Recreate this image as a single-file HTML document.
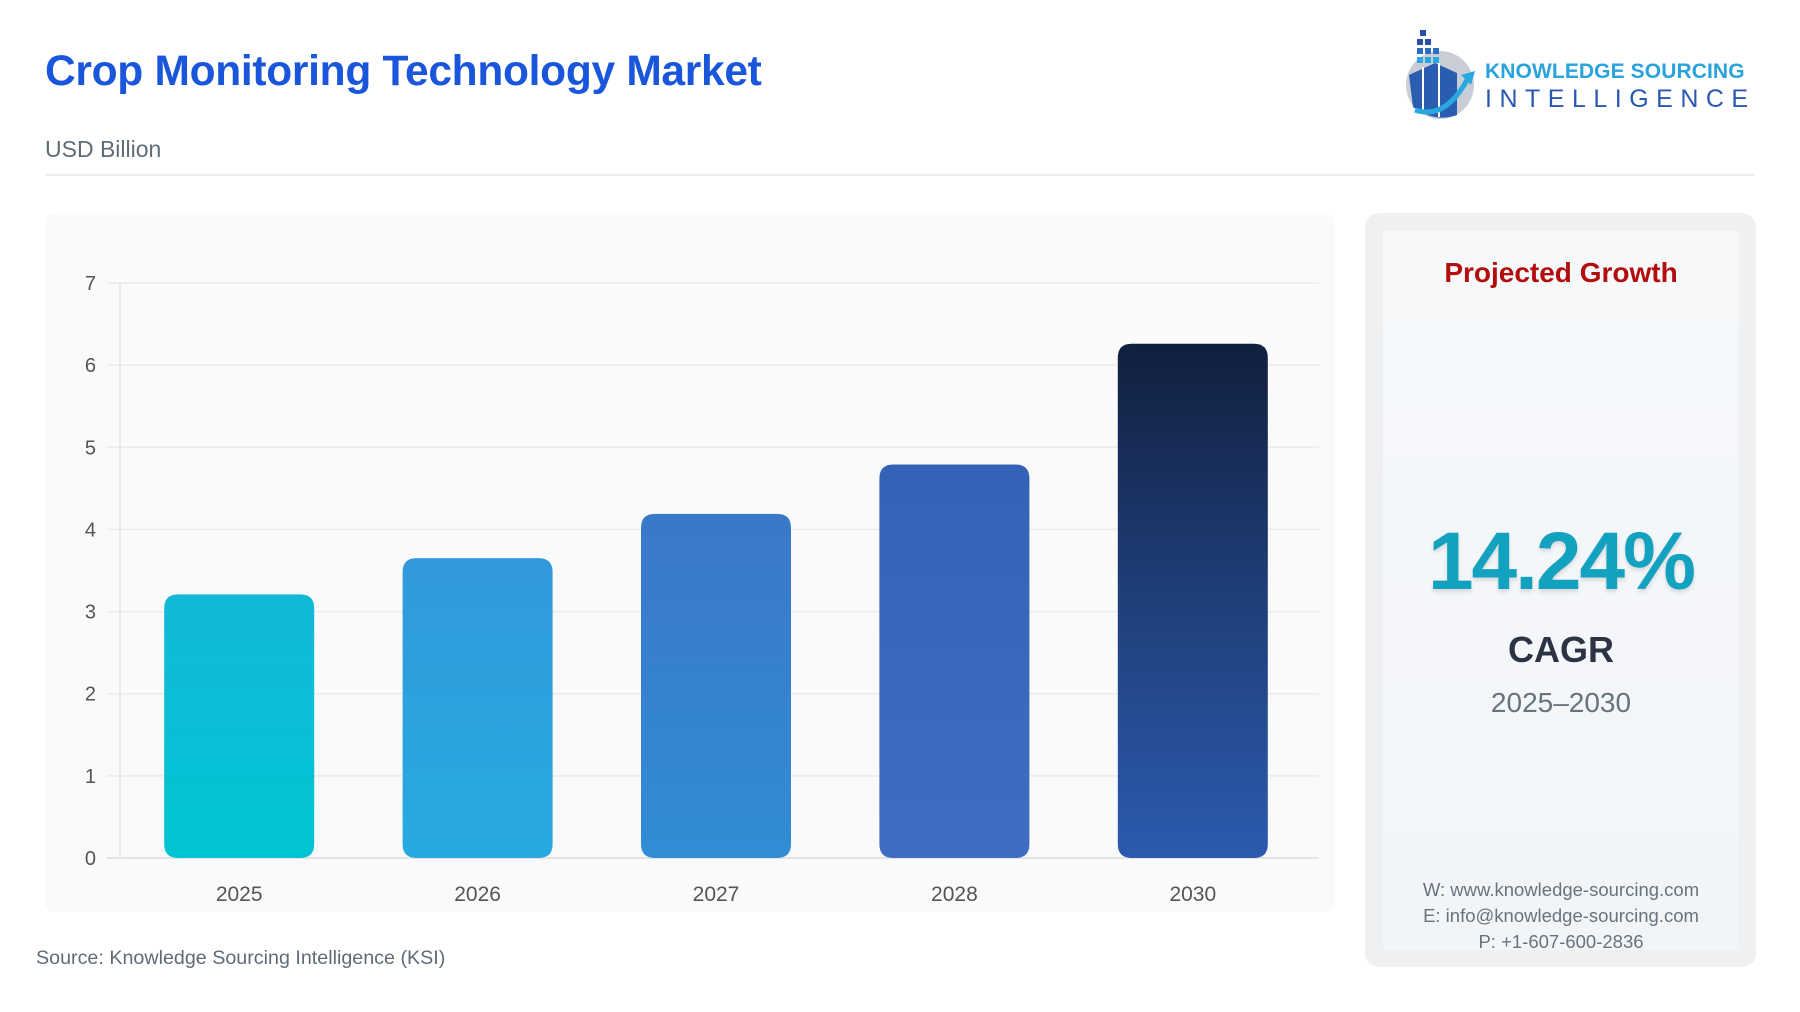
<!DOCTYPE html>
<html><head><meta charset="utf-8"><style>
body{margin:0;width:1800px;height:1012px;background:#fff;position:relative;overflow:hidden;font-family:"Liberation Sans",sans-serif}
.a{position:absolute}
</style></head><body>
<div class="a" style="left:45px;top:48px;font-size:42.5px;font-weight:bold;color:#1a56db;letter-spacing:-0.3px">Crop Monitoring Technology Market</div>
<div class="a" style="left:45px;top:136px;font-size:23px;color:#5f6b76">USD Billion</div>
<div class="a" style="left:45px;top:174px;width:1710px;height:2px;background:#eceef0"></div>
<div class="a" style="left:1395px;top:25px;width:400px;height:95px">
<svg width="90" height="95" viewBox="0 0 90 95"><circle cx="45" cy="60" r="34" fill="#c9ced6"/><path d="M14 50 L40 38 L62 48 L62 90 Q40 98 18 82 Z" fill="#2a5db0"/><path d="M28 42 L28 88 M44 38 L44 92" stroke="#fff" stroke-width="2"/><path d="M20 85 Q50 95 72 55" stroke="#29a8e0" stroke-width="5" fill="none"/><polygon points="66,50 80,46 76,60" fill="#29a8e0"/><rect x="25" y="5" width="6" height="6" fill="#2a4fa0"/><rect x="22" y="14" width="6" height="6" fill="#2a4fa0"/><rect x="30" y="14" width="6" height="6" fill="#2a4fa0"/><rect x="22" y="23" width="6" height="6" fill="#2e6cc0"/><rect x="30" y="23" width="6" height="6" fill="#2e6cc0"/><rect x="38" y="23" width="6" height="6" fill="#2e6cc0"/><rect x="22" y="32" width="6" height="6" fill="#29a8e0"/><rect x="30" y="32" width="6" height="6" fill="#29a8e0"/><rect x="38" y="32" width="6" height="6" fill="#29a8e0"/></svg>
<div class="a" style="left:90px;top:35px;font-size:21px;font-weight:bold;color:#29a3dc;letter-spacing:0.1px;white-space:nowrap">KNOWLEDGE SOURCING</div>
<div class="a" style="left:90px;top:60px;font-size:25px;color:#2b58b0;letter-spacing:7.5px;white-space:nowrap">INTELLIGENCE</div>
</div>
<div class="a" style="left:45px;top:213px;width:1290px;height:699px;background:#fafafa;border-radius:10px"></div>
<svg class="a" style="left:0;top:0" width="1800" height="1012">
<defs>
<linearGradient id="g0" x1="0" y1="0" x2="0" y2="1"><stop offset="0" stop-color="#12b9d6"/><stop offset="1" stop-color="#00c4d4"/></linearGradient>
<linearGradient id="g1" x1="0" y1="0" x2="0" y2="1"><stop offset="0" stop-color="#3199da"/><stop offset="1" stop-color="#27aae0"/></linearGradient>
<linearGradient id="g2" x1="0" y1="0" x2="0" y2="1"><stop offset="0" stop-color="#3a78c8"/><stop offset="1" stop-color="#328cd6"/></linearGradient>
<linearGradient id="g3" x1="0" y1="0" x2="0" y2="1"><stop offset="0" stop-color="#3462b6"/><stop offset="1" stop-color="#3e6dc2"/></linearGradient>
<linearGradient id="g4" x1="0" y1="0" x2="0" y2="1"><stop offset="0" stop-color="#121f3e"/><stop offset="0.5" stop-color="#1f3f7a"/><stop offset="1" stop-color="#2c5aae"/></linearGradient>
</defs>
<g id="grid"></g><g id="bars"></g><g id="labels"></g>
</svg>
<div class="a" style="left:1365px;top:213px;width:391px;height:754px;background:#eef0f2;border-radius:14px"></div>
<div class="a" style="left:1383px;top:231px;width:356px;height:719px;background:linear-gradient(#f6f8fa,#f2f5f8)"></div>
<div class="a" style="left:1383px;width:356px;text-align:center;top:257px;font-size:28px;font-weight:bold;color:#b30d0d">Projected Growth</div>
<div class="a" style="left:1383px;width:356px;text-align:center;top:515px;font-size:82px;font-weight:bold;color:#12a2c0;letter-spacing:-2px;text-shadow:0 3px 4px rgba(0,0,0,0.12)">14.24%</div>
<div class="a" style="left:1383px;width:356px;text-align:center;top:629px;font-size:36px;font-weight:bold;color:#2b3345">CAGR</div>
<div class="a" style="left:1383px;width:356px;text-align:center;top:687px;font-size:28px;color:#67737d">2025–2030</div>
<div class="a" style="left:1383px;width:356px;text-align:center;top:877px;font-size:18.5px;line-height:26px;color:#67737d">W: www.knowledge-sourcing.com<br>E: info@knowledge-sourcing.com<br>P: +1-607-600-2836</div>
<div class="a" style="left:36px;top:947px;font-size:19.7px;color:#5f6b76">Source: Knowledge Sourcing Intelligence (KSI)</div>
<script>
const categories=["2025","2026","2027","2028","2030"];
const values=[3.21,3.65,4.19,4.79,6.26];
const yTicks=[0,1,2,3,4,5,6,7];
const NS="http://www.w3.org/2000/svg";
const X0=120,X1=1312,Y0=858,Y7=283,YMAX=7;
const y=v=>Y0-(v/YMAX)*(Y0-Y7);
const band=(X1-X0)/categories.length;
const xc=i=>X0+band*(i+0.5);
function mk(t,a,p){const e=document.createElementNS(NS,t);for(const k in a)e.setAttribute(k,a[k]);p.appendChild(e);return e;}
const grid=document.getElementById('grid'),bars=document.getElementById('bars'),labels=document.getElementById('labels');
yTicks.forEach(t=>{
 const l=mk('line',{x1:107,x2:X1+7,y1:y(t),y2:y(t),stroke:t===0?'#dcdcdc':'#ebebeb','stroke-width':1.5},grid);
 
 
 const tx=mk('text',{x:96,y:y(t)+7,'text-anchor':'end','font-size':20,fill:'#555','font-family':'Liberation Sans, sans-serif'},labels);
 tx.textContent=t;
 
 
});
const ax=mk('line',{x1:X0,x2:X0,y1:Y7,y2:Y0,stroke:'#e3e3e3','stroke-width':1.5},grid);


const bw=150,r=14;
values.forEach((v,i)=>{
 const x=xc(i)-bw/2,top=y(v);
 const p=mk('path',{d:`M${x} ${Y0-r}V${top+r}Q${x} ${top} ${x+r} ${top}H${x+bw-r}Q${x+bw} ${top} ${x+bw} ${top+r}V${Y0-r}Q${x+bw} ${Y0} ${x+bw-r} ${Y0}H${x+r}Q${x} ${Y0} ${x} ${Y0-r}Z`,fill:`url(#g${i})`},bars);
 
 
 const t=mk('text',{x:xc(i),y:901,'text-anchor':'middle','font-size':21,fill:'#555','font-family':'Liberation Sans, sans-serif'},labels);
 t.textContent=categories[i];
 
 
});
</script>
</body></html>
